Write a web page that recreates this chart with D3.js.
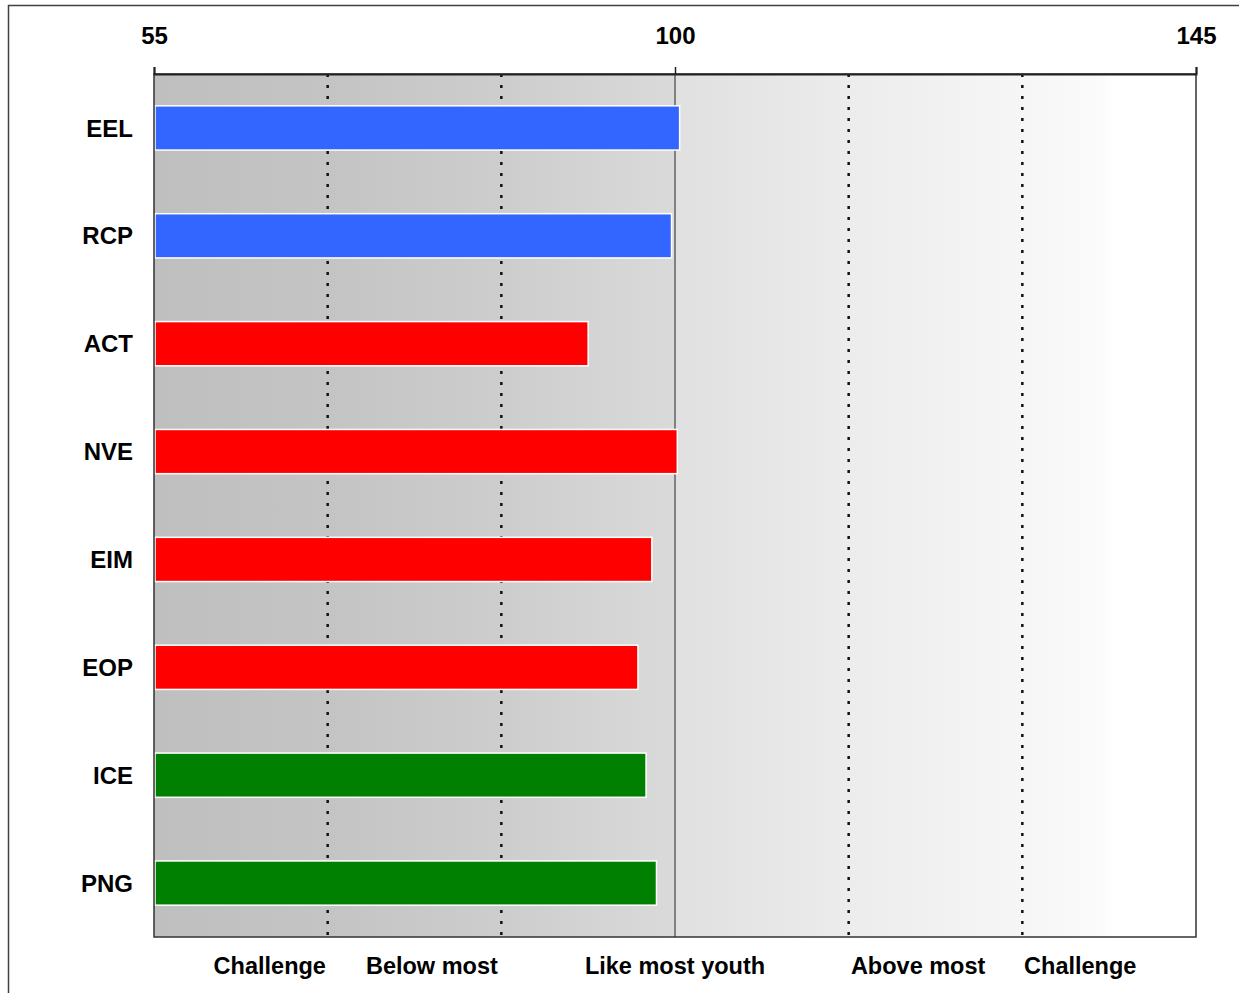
<html>
  <head>
    <title>Scores</title>
    <style type="text/css">
      body { margin: 0; background: #fff; }
      text { font-family: "Liberation Sans", Arial, sans-serif; font-weight: bold; }
    </style>
    <script src="https://d3js.org/d3.v7.min.js"></script>
  </head>
  <body>
    <svg class="chart" width="1239" height="993"></svg>
    <script>

// data
var categories = ["EEL", "RCP", "ACT", "NVE", "EIM", "EOP", "ICE", "PNG"];
var values = [100.4, 99.7, 92.5, 100.2, 98.0, 96.8, 97.5, 98.4];
var colors = ["#3366ff", "#3366ff", "#ff0000", "#ff0000", "#ff0000", "#ff0000", "#008000", "#008000"];
var topTicks = [55, 100, 145];
var dottedLines = [70, 85, 115, 130];
var zoneLabels = ["Challenge", "Below most", "Like most youth", "Above most", "Challenge"];
var zonePos = [65, 79, 100, 121, 135];

var margin = {top: 74, right: 43, bottom: 56, left: 154},
    width = 1239 - margin.left - margin.right,
    height = 993 - margin.top - margin.bottom;

var root = d3.select(".chart");

// outer frame
root.append("rect")
  .attr("x", 8.5).attr("y", 5.5)
  .attr("width", 1240).attr("height", 1000)
  .attr("fill", "none").attr("stroke", "#404040").attr("stroke-width", 1.5);

var svg = root.append("g")
  .attr("transform", "translate(" + margin.left + "," + margin.top + ")");

var x = d3.scaleLinear().domain([55, 145]).range([0, width]);
var y = d3.scaleBand().domain(categories).range([0, height]).paddingInner(0.59).paddingOuter(0.295);

// background gradient
var grad = root.append("defs").append("linearGradient")
  .attr("id", "bg").attr("gradientUnits", "userSpaceOnUse")
  .attr("x1", 0).attr("x2", width).attr("y1", 0).attr("y2", 0);
[[55, "#bfbfbf"], [70, "#c4c4c4"], [85, "#cdcdcd"], [100, "#dadada"], [100, "#e0e0e0"],
 [115, "#ececec"], [130, "#f6f6f6"], [137, "#fbfbfb"], [138, "#ffffff"], [145, "#ffffff"]]
  .forEach(function(s) {
    grad.append("stop").attr("offset", (s[0] - 55) / 90).attr("stop-color", s[1]);
  });

svg.append("rect")
  .attr("width", width).attr("height", height)
  .attr("fill", "url(#bg)");

// dotted zone lines
svg.selectAll(".dot")
  .data(dottedLines)
  .enter().append("line")
    .attr("x1", function(d) { return x(d) }).attr("x2", function(d) { return x(d) })
    .attr("y1", 0).attr("y2", height)
    .attr("stroke", "#111").attr("stroke-width", 2.5)
    .attr("stroke-dasharray", "3,8");

// reference line at 100
svg.append("line")
  .attr("x1", x(100)).attr("x2", x(100))
  .attr("y1", 0).attr("y2", height)
  .attr("stroke", "#808080").attr("stroke-width", 2);

// bars
svg.selectAll(".bar")
  .data(categories)
  .enter().append("rect")
    .attr("x", x(55) + 1)
    .attr("y", function(d) { return y(d) })
    .attr("width", function(d, i) { return x(values[i]) - x(55) - 1 })
    .attr("height", y.bandwidth())
    .attr("fill", function(d, i) { return colors[i] })
    .attr("stroke", "#fff").attr("stroke-width", 1.5);

// frame of plot area
svg.append("rect")
  .attr("width", width).attr("height", height)
  .attr("fill", "none").attr("stroke", "#333").attr("stroke-width", 1.5);

// top axis
var xAxis = svg.append("g")
  .call(d3.axisTop(x).tickValues(topTicks).tickSize(7).tickPadding(23));
xAxis.select(".domain").attr("stroke", "#222").attr("stroke-width", 2);
xAxis.selectAll(".tick line").attr("stroke", "#222").attr("stroke-width", 1.5);
xAxis.selectAll(".tick text")
  .attr("font-size", 24).attr("fill", "#000")
  .attr("font-family", "Liberation Sans, Arial, sans-serif").attr("font-weight", "bold");

// category labels
svg.selectAll(".cat")
  .data(categories)
  .enter().append("text")
    .attr("x", -21)
    .attr("y", function(d) { return y(d) + y.bandwidth() / 2 })
    .attr("dy", "0.36em")
    .attr("text-anchor", "end")
    .attr("font-size", 24)
    .text(function(d) { return d });

// zone labels below
svg.selectAll(".zone")
  .data(zoneLabels)
  .enter().append("text")
    .attr("x", function(d, i) { return x(zonePos[i]) })
    .attr("y", height + 37)
    .attr("text-anchor", "middle")
    .attr("font-size", 23.5)
    .text(function(d) { return d });

</script>
  </body>
</html>
